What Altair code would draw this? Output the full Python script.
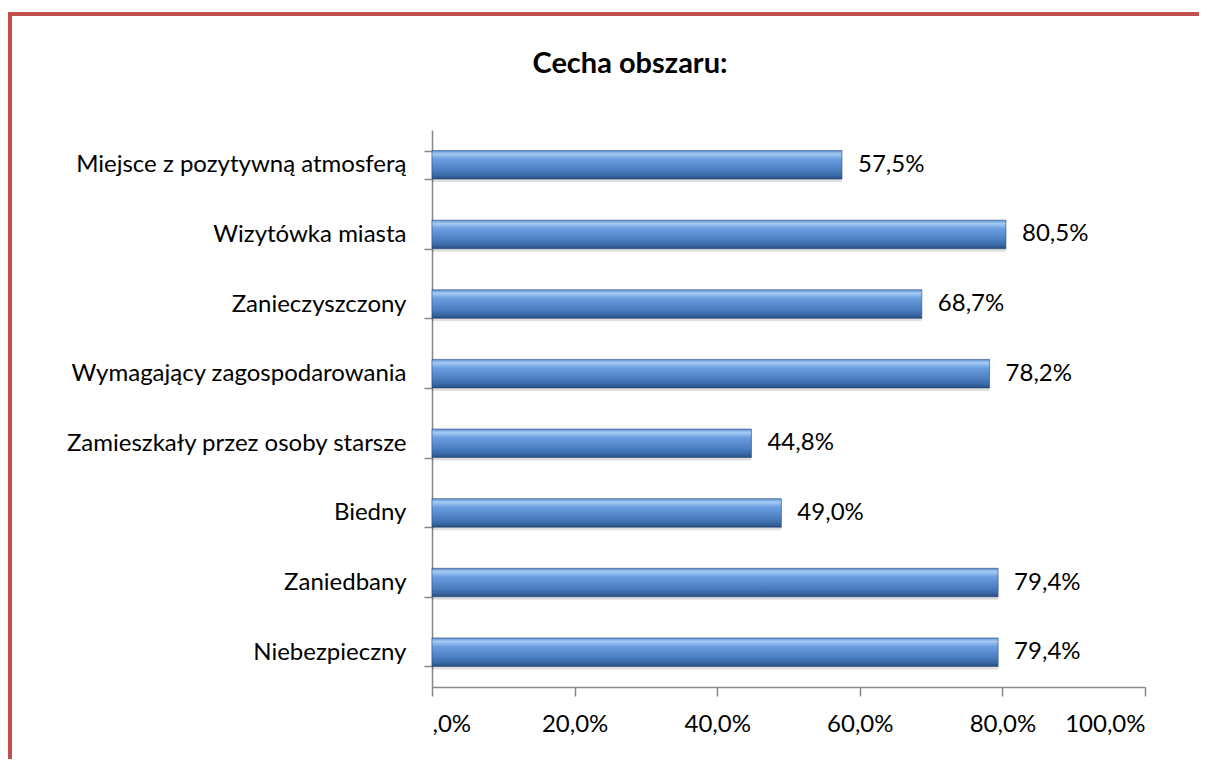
import altair as alt
import pandas as pd

categories = [
    "Miejsce z pozytywną atmosferą",
    "Wizytówka miasta",
    "Zanieczyszczony",
    "Wymagający zagospodarowania",
    "Zamieszkały przez osoby starsze",
    "Biedny",
    "Zaniedbany",
    "Niebezpieczny",
]
values = [57.5, 80.5, 68.7, 78.2, 44.8, 49.0, 79.4, 79.4]
tick_values = [0, 20, 40, 60, 80, 100]
title_text = ["Cecha obszaru:"]

df = pd.DataFrame({
    "cat": categories,
    "val": values,
    "label": [f"{v:.1f}%".replace(".", ",") for v in values],
})

FONT = "Lato"
FS = 24
W, H = 713, 557

ybase = alt.Y("cat:N", sort=categories, title=None,
              scale=alt.Scale(paddingInner=0.59, paddingOuter=0.295),
              axis=alt.Axis(labelFont=FONT, labelFontSize=FS, labelColor="#000000",
                            labelPadding=18, labelLimit=0, tickSize=8, tickBand="extent",
                            domainColor="#868686", tickColor="#868686",
                            domainWidth=1.5, tickWidth=1.5))
xbase = alt.X("val:Q", title=None,
              scale=alt.Scale(domain=[0, 100], nice=False),
              axis=alt.Axis(values=tick_values, grid=False,
                            labelExpr="datum.value == 0 ? ',0%' : replace(format(datum.value, '.1f'), '.', ',') + '%'",
                            labelFont=FONT, labelFontSize=FS, labelColor="#000000",
                            labelPadding=16, tickSize=9,
                            domainColor="#868686", tickColor="#868686",
                            domainWidth=1.5, tickWidth=1.5))

grad = alt.Gradient(
    gradient="linear", x1=0, y1=0, x2=0, y2=1,
    stops=[
        alt.GradientStop(offset=0.0, color="#5d8fd0"),
        alt.GradientStop(offset=0.12, color="#a6cbf5"),
        alt.GradientStop(offset=0.3, color="#6a9ee0"),
        alt.GradientStop(offset=0.7, color="#4a7dc0"),
        alt.GradientStop(offset=0.9, color="#35649f"),
        alt.GradientStop(offset=1.0, color="#24497a"),
    ],
)

shadow = alt.Chart(df).mark_bar(color="#000000", opacity=0.12, yOffset=3).encode(
    y=ybase, x=xbase
)
bars = alt.Chart(df).mark_bar(fill=grad, stroke="#2c4f7f", strokeWidth=0.6).encode(
    y=ybase, x=xbase
)
labels = alt.Chart(df).mark_text(align="left", baseline="middle", dx=16,
                                 font=FONT, fontSize=FS, color="#000000").encode(
    y=alt.Y("cat:N", sort=categories), x=alt.X("val:Q"), text="label:N"
)

title = alt.Chart(pd.DataFrame({"t": title_text})).mark_text(
    font=FONT, fontSize=29, fontWeight="bold", color="#000000",
    align="center", baseline="alphabetic"
).encode(x=alt.value(630 - 432), y=alt.value(73 - 130), text="t:N")

frame_left = alt.Chart(df.head(1)).mark_rule(color="#C0504D", strokeWidth=4).encode(
    x=alt.value(-422), y=alt.value(-116), y2=alt.value(H + 200)
)
frame_top = alt.Chart(df.head(1)).mark_rule(color="#C0504D", strokeWidth=4).encode(
    x=alt.value(-424), x2=alt.value(W + 200), y=alt.value(-116)
)

chart = alt.layer(shadow, bars, labels, title, frame_left, frame_top).properties(
    width=W, height=H,
    background="white",
    autosize=alt.AutoSizeParams(type="none"),
    padding={"left": 424, "top": 122, "right": 54, "bottom": 72},
).configure_view(strokeWidth=0, stroke=None)

chart.save("out.html", embed_options={"renderer": "svg", "actions": False})
